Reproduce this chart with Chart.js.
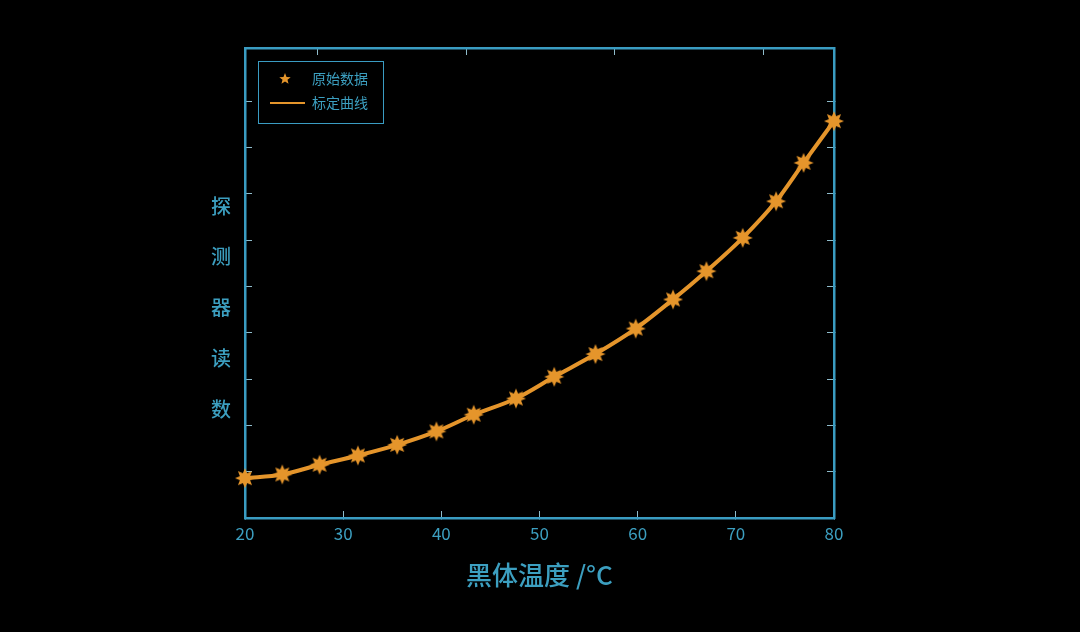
<!DOCTYPE html>
<html>
<head>
<meta charset="utf-8">
<script src="https://cdn.jsdelivr.net/npm/chart.js@4"></script>
<style>
  html, body { margin: 0; background: #000; }
</style>
</head>
<body>
<canvas id="c" width="1080" height="632"></canvas>
<script>
'use strict';

// 数据
const temps = [20, 23.8, 27.6, 31.5, 35.5, 39.5, 43.3, 47.6, 51.5, 55.7, 59.8, 63.6, 67.0, 70.7, 74.1, 76.9, 80];
const readings = [0.86, 0.94, 1.15, 1.35, 1.58, 1.87, 2.23, 2.58, 3.05, 3.54, 4.09, 4.72, 5.33, 6.05, 6.84, 7.67, 8.57];
const xTickValues = [20, 30, 40, 50, 60, 70, 80];
const yTickValues = [1, 2, 3, 4, 5, 6, 7, 8, 9];
const topTickValues = [1, 2, 3, 4];
const seriesNames = ['原始数据', '标定曲线'];
const xTitle = '黑体温度 /°C';
const yTitle = ['探', '测', '器', '读', '数'];

const CYAN = '#3a9cc2';
const TEXT = '#3c9fc0';
const TICK = '#8fbccb';
const ORANGE = '#e5952b';
const FONT = "'Noto Sans CJK SC', 'Noto Sans', sans-serif";

function makeStar(outer, inner, n) {
    let c = document.createElement('canvas');
    let s = Math.ceil(outer * 2 + 2);
    c.width = s; c.height = s;
    let g = c.getContext('2d');
    g.translate(s / 2, s / 2);
    g.beginPath();
    for (let i = 0; i < n * 2; i++) {
        let r = i % 2 === 0 ? outer : inner;
        let a = -Math.PI / 2 + i * Math.PI / n;
        g.lineTo(r * Math.cos(a), r * Math.sin(a));
    }
    g.closePath();
    g.fillStyle = ORANGE;
    g.fill();
    return c;
}
const bigStar = makeStar(10, 5.5, 8);
const smallStar = makeStar(6, 2.6, 5);

const pts = temps.map((t, i) => ({ x: t, y: readings[i] }));

// 图例和纵轴标题
const extras = {
    id: 'extras',
    afterDraw(chart) {
        const ctx = chart.ctx;
        const a = chart.chartArea;
        ctx.save();
        // 纵轴标题,竖排
        ctx.fillStyle = TEXT;
        ctx.font = '500 20px ' + FONT;
        ctx.textAlign = 'center';
        ctx.textBaseline = 'middle';
        yTitle.forEach((ch, i) => ctx.fillText(ch, a.left - 24, a.top + 158 + i * 50.8));

        // 图例
        let lx = a.left + 13, ly = a.top + 13;
        ctx.strokeStyle = CYAN;
        ctx.lineWidth = 1;
        ctx.strokeRect(lx + 0.5, ly + 0.5, 125, 62);
        ctx.drawImage(smallStar, lx + 27 - smallStar.width / 2, ly + 18 - smallStar.height / 2);
        ctx.strokeStyle = ORANGE;
        ctx.lineWidth = 2;
        ctx.beginPath();
        ctx.moveTo(lx + 12, ly + 42);
        ctx.lineTo(lx + 47, ly + 42);
        ctx.stroke();
        ctx.fillStyle = TEXT;
        ctx.font = '14px ' + FONT;
        ctx.textAlign = 'left';
        ctx.fillText(chart.data.datasets[0].label, lx + 54, ly + 18);
        ctx.fillText(chart.data.datasets[1].label, lx + 54, ly + 42);
        ctx.restore();
    }
};

function tickSet(values) {
    return function (scale) {
        scale.ticks = values.map(v => ({ value: v }));
    };
}

const gridInward = { display: true, drawOnChartArea: false, drawTicks: true, tickLength: -7, color: TICK, lineWidth: 1 };
const border = { display: true, color: CYAN, width: 2.5 };

new Chart(document.getElementById('c').getContext('2d'), {
    type: 'line',
    data: {
        datasets: [{
            label: seriesNames[0],
            data: pts,
            showLine: false,
            pointStyle: bigStar,
            pointRadius: 10,
            pointHoverRadius: 10,
            clip: false
        }, {
            label: seriesNames[1],
            data: pts,
            borderColor: ORANGE,
            borderWidth: 4,
            cubicInterpolationMode: 'monotone',
            pointRadius: 0,
            fill: false,
            clip: false
        }]
    },
    options: {
        responsive: false,
        animation: false,
        layout: { padding: { left: 245, right: 246, top: 48, bottom: 37 } },
        plugins: {
            legend: { display: false },
            tooltip: { enabled: false }
        },
        scales: {
            x: {
                type: 'linear',
                position: 'bottom',
                min: 20,
                max: 80,
                afterBuildTicks: tickSet(xTickValues),
                afterFit: s => { s.height = 77; },
                grid: gridInward,
                border: border,
                ticks: { color: TEXT, font: { family: FONT, size: 17 }, padding: 12, autoSkip: false, maxRotation: 0 },
                title: { display: true, text: xTitle, color: TEXT, font: { family: FONT, size: 26, weight: '500' }, padding: { top: 4, bottom: 4 } }
            },
            x2: {
                type: 'linear',
                position: 'top',
                min: 0.51,
                max: 4.478,
                afterBuildTicks: tickSet(topTickValues),
                afterFit: s => { s.height = 0; },
                grid: gridInward,
                border: border,
                ticks: { display: false }
            },
            y: {
                position: 'left',
                min: 0,
                max: 10.15,
                afterBuildTicks: tickSet(yTickValues),
                afterFit: s => { s.width = 0; },
                grid: gridInward,
                border: border,
                ticks: { display: false }
            },
            y2: {
                position: 'right',
                min: 0,
                max: 10.15,
                afterBuildTicks: tickSet(yTickValues),
                afterFit: s => { s.width = 0; },
                grid: gridInward,
                border: border,
                ticks: { display: false }
            }
        }
    },
    plugins: [extras]
});
</script>
</body>
</html>
